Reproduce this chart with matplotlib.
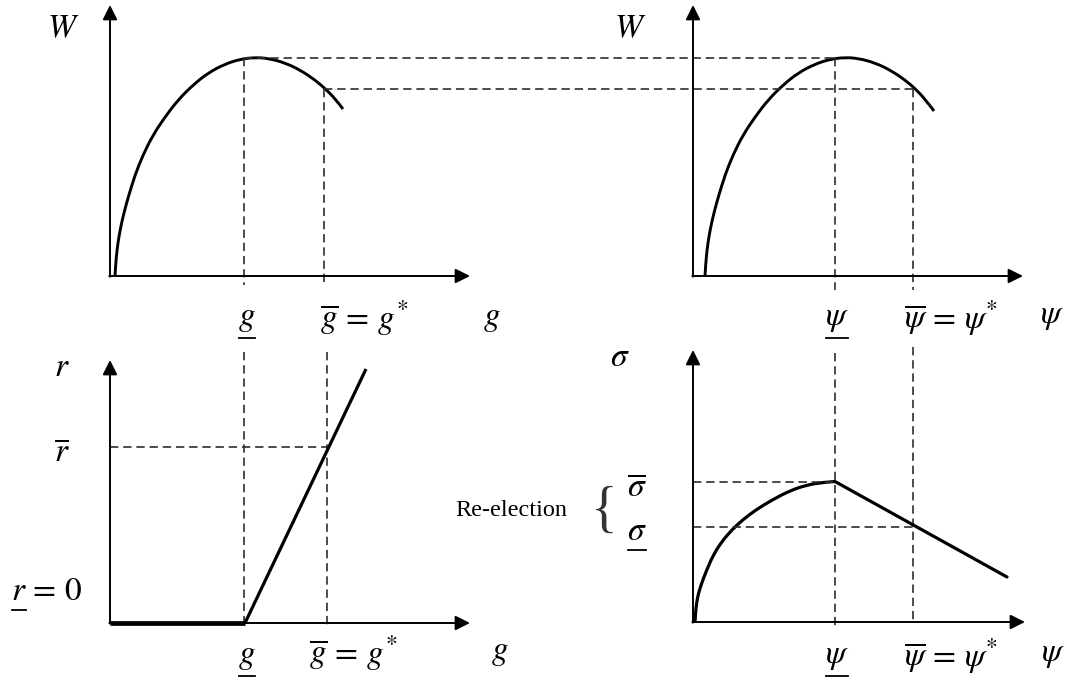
import matplotlib.pyplot as plt
from matplotlib.path import Path
from matplotlib.patches import PathPatch

plt.rcParams['mathtext.fontset'] = 'stix'
plt.rcParams['lines.scale_dashes'] = False

# picture is drawn on a pixel grid (x to the right, y downward)
W, H = 1067, 682

# axes of the four panels: origin x, origin y, top of y-arrow, tip of x-arrow
panels = {
    'top_left':     (110, 276, 5, 470),
    'top_right':    (693, 276, 5, 1023),
    'bottom_left':  (110, 623, 360, 470),
    'bottom_right': (693, 622, 350, 1025),
}

# welfare curves
w_left_x = [115, 115.7, 117, 119, 122, 125, 128, 135, 143, 153, 165, 178, 193, 208, 225, 241, 255,
            268, 285, 301, 315, 325, 335, 343]
w_left_y = [276, 264, 250, 236, 221, 209, 198, 175, 155, 135, 117, 100, 85, 73, 64, 59, 57.5,
            58.3, 62.8, 70.5, 80, 88.5, 98.5, 109]
w_right_x = [705, 705.7, 707, 709, 712, 715, 718, 725, 733, 743, 755, 768, 783, 798, 815, 831, 845,
             858, 875, 891, 905, 915, 925, 934]
w_right_y = [276, 264, 250, 236, 221, 209, 198, 175, 155, 135, 117, 100, 85, 73, 64, 59, 57.5,
             58.3, 62.8, 70.5, 80, 88.5, 99, 111]

# bottom left: r as a function of g (kinked line)
r_x = [110, 245, 366]
r_y = [623, 623, 369]

# bottom right: sigma as a function of psi (rising arc, then falling line)
s_x = [695, 695.6, 696.6, 698.3, 701.7, 706.7, 713.3, 721.7, 731.7, 743.3, 756.7, 773.3, 790, 806.7, 823.3, 835]
s_y = [622, 612, 603, 594, 583, 570, 555, 541.7, 530, 519.3, 509.3, 499.3, 490.7, 485, 482.3, 481.5]
s_tail_x = [835, 1007]
s_tail_y = [481.5, 577]

# dashed guide lines: (x0, y0, x1, y1)
guides = [
    (244, 58, 835, 58), (324, 89, 913, 89),
    (244, 58, 244, 285), (324, 89, 324, 285),
    (835, 58, 835, 290), (913, 89, 913, 290),
    (244, 352, 244, 623), (327, 352, 327, 626),
    (110, 447, 327, 447),
    (835, 353, 835, 628), (913, 347, 913, 622),
    (693, 482, 835, 482), (693, 527, 913, 527),
]

# labels: x, y, text, underlined
labels = [
    (63, 28, r'$W$', False), (630, 28, r'$W$', False),
    (247, 318, r'$g$', True), (364, 318, r'$\overline{g}\,=\,g^{*}$', False), (492, 318, r'$g$', False),
    (837, 318, r'$\psi$', True), (951, 318, r'$\overline{\psi}\,=\,\psi^{*}$', False), (1052, 316, r'$\psi$', False),
    (62, 366, r'$r$', False), (62, 452, r'$\overline{r}$', False),
    (19, 590, r'$r$', True), (55, 590, r'$=\,0$', False),
    (247, 656, r'$g$', True), (353, 653, r'$\overline{g}\,=\,g^{*}$', False), (500, 651, r'$g$', False),
    (620, 356, r'$\sigma$', False), (637, 487, r'$\overline{\sigma}$', False), (637, 530, r'$\sigma$', True),
    (837, 656, r'$\psi$', True), (951, 656, r'$\overline{\psi}\,=\,\psi^{*}$', False), (1053, 654, r'$\psi$', False),
]


def smooth_curve(ax, xs, ys, lw):
    # quadratic bezier pieces through the read points, drawn by matplotlib
    pts = list(zip(xs, ys))
    verts, codes = [pts[0]], [Path.MOVETO]
    for i in range(1, len(pts) - 1):
        if i < len(pts) - 2:
            end = ((pts[i][0] + pts[i + 1][0]) / 2, (pts[i][1] + pts[i + 1][1]) / 2)
        else:
            end = pts[i + 1]
        verts += [pts[i], end]
        codes += [Path.CURVE3, Path.CURVE3]
    ax.add_patch(PathPatch(Path(verts, codes), fill=False, lw=lw,
                           edgecolor='black', capstyle='butt'))


fig = plt.figure(figsize=(W / 100, H / 100), dpi=100)
ax = fig.add_axes([0, 0, 1, 1])
ax.set_xlim(0, W)
ax.set_ylim(H, 0)
ax.axis('off')

for x0, y0, x1, y1 in guides:
    ax.plot([x0, x1], [y0, y1], color='#2e2e2e', lw=1.2, dashes=(6, 3.5))

for ox, oy, top, tip in panels.values():
    arrow = dict(arrowstyle='-|>', mutation_scale=22, lw=1.4, color='black',
                 shrinkA=0, shrinkB=0)
    ax.annotate('', xy=(ox, top), xytext=(ox, oy + 0.7), arrowprops=arrow)
    ax.annotate('', xy=(tip, oy), xytext=(ox - 0.7, oy), arrowprops=arrow)

smooth_curve(ax, w_left_x, w_left_y, 2.1)
smooth_curve(ax, w_right_x, w_right_y, 2.1)
ax.plot(r_x[:2], r_y[:2], color='black', lw=3.4, solid_capstyle='butt')
ax.plot(r_x[1:], r_y[1:], color='black', lw=2.3, solid_capstyle='butt')
smooth_curve(ax, s_x, s_y, 2.3)
ax.plot(s_tail_x, s_tail_y, color='black', lw=2.3, solid_capstyle='round')

under = []
for x, y, s, ul in labels:
    t = ax.text(x, y, s, fontsize=24, ha='center', va='center')
    if ul:
        under.append(t)

ax.text(511, 511, 'Re-election', fontsize=17.5, family='Liberation Serif',
        ha='center', va='center')
ax.text(604, 513, '{', fontsize=40, family='Liberation Serif', color='#333333',
        ha='center', va='center')

# underline the lower-bound symbols
fig.canvas.draw()
inv = ax.transData.inverted()
for t in under:
    bb = t.get_window_extent()
    (x0, yb), (x1, _) = inv.transform([(bb.x0, bb.y0), (bb.x1, bb.y1)])
    ax.plot([x0 + 1, x1 - 1], [yb + 3, yb + 3], color='black', lw=1.3)

fig.savefig('out.png', dpi=100)
